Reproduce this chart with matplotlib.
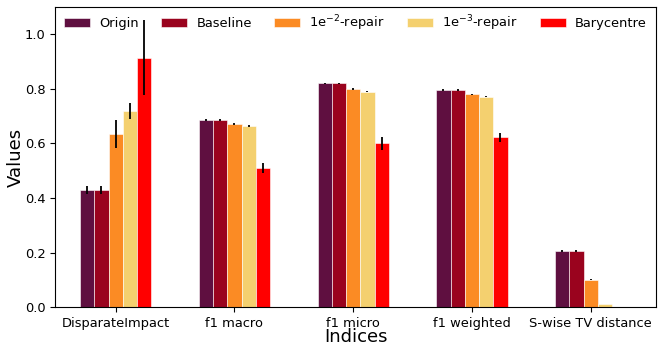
import matplotlib
matplotlib.use("Agg")
import matplotlib.pyplot as plt
import numpy as np

categories = ["DisparateImpact", "f1 macro", "f1 micro", "f1 weighted", "S-wise TV distance"]
series_names = ["Origin", "Baseline", r"1e$^{-2}$-repair", r"1e$^{-3}$-repair", "Barycentre"]
origin = [0.43, 0.685, 0.82, 0.795, 0.205]
origin_err = [0.015, 0.004, 0.002, 0.003, 0.003]
baseline = [0.43, 0.685, 0.82, 0.795, 0.205]
baseline_err = [0.015, 0.004, 0.002, 0.003, 0.003]
repair2 = [0.635, 0.672, 0.80, 0.78, 0.10]
repair2_err = [0.05, 0.004, 0.004, 0.003, 0.002]
repair3 = [0.72, 0.665, 0.79, 0.772, 0.012]
repair3_err = [0.03, 0.003, 0.003, 0.002, 0.001]
barycentre = [0.915, 0.51, 0.60, 0.622, 0.0]
barycentre_err = [0.137, 0.02, 0.025, 0.018, 0.0]

colors = ["#5f0f40", "#9a031e", "#fb8b24", "#f4d06f", "#ff0000"]

values = [origin, baseline, repair2, repair3, barycentre]
errors = [origin_err, baseline_err, repair2_err, repair3_err, barycentre_err]

fig, ax = plt.subplots(figsize=(6.64, 3.53), dpi=100)
x = np.arange(len(categories))
w = 0.12
for i, (v, e, c, n) in enumerate(zip(values, errors, colors, series_names)):
    ax.bar(x + (i - 2) * w, v, w, yerr=e, color=c, label=n,
           edgecolor="#ffffff", linewidth=0.4, error_kw=dict(ecolor="black", elinewidth=1.3))

ax.set_xticks(x)
ax.set_xticklabels(categories)
ax.tick_params(labelsize=9.4)
ax.set_ylim(0, 1.1)
ax.set_xlim(-0.51, 4.55)
ax.set_ylabel("Values", fontsize=13, labelpad=0)
ax.set_xlabel("Indices", fontsize=13, labelpad=-1)
ax.legend(ncol=5, loc="upper center", frameon=False, fontsize=9.4,
          handlelength=2.0, handletextpad=0.7, columnspacing=1.7,
          bbox_to_anchor=(0.5, 1.018))
fig.subplots_adjust(left=0.083, right=0.988, top=0.98, bottom=0.13)
fig.savefig("out.png", dpi=100)
